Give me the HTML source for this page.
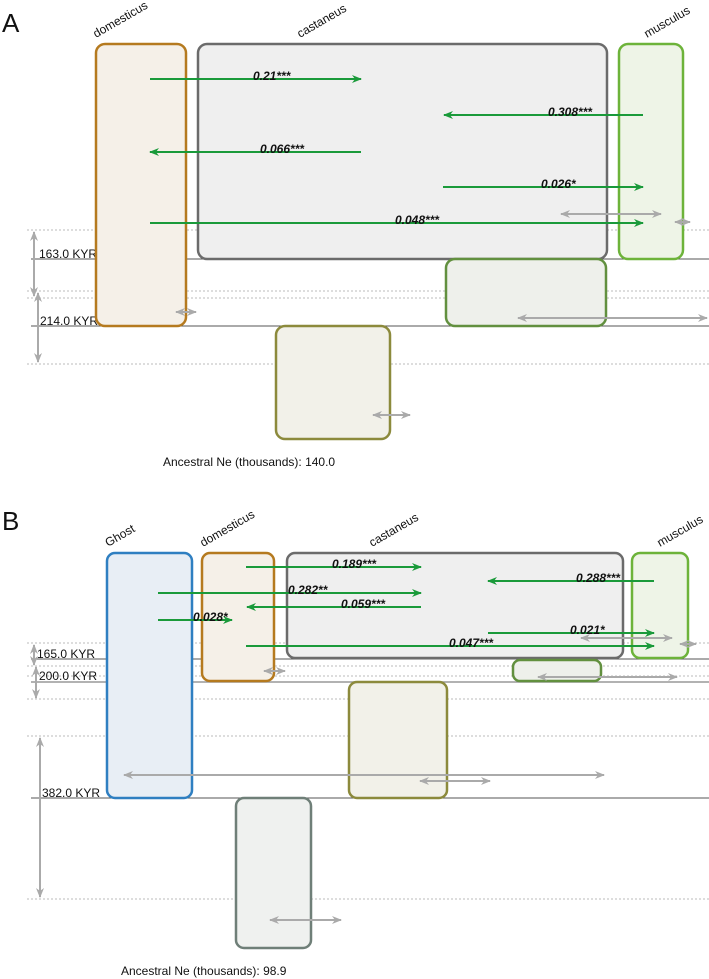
<!DOCTYPE html>
<html><head><meta charset="utf-8"><style>
html,body{margin:0;padding:0;background:#fff;}
svg{display:block;font-family:"Liberation Sans",sans-serif;}
.g{stroke:#1a9a3a;stroke-width:2;fill:none;}
.gr{stroke:#aaa;stroke-width:2;fill:none;}
.sl{stroke:#555;stroke-width:1;}
.sl2{stroke:#999;stroke-width:1.5;}
.dl{stroke:#bbb;stroke-width:1;stroke-dasharray:2,2;}
.lab{font-size:12px;font-style:italic;font-weight:bold;fill:#111;}
.sp{font-size:12px;fill:#111;}
</style></head><body>
<svg width="709" height="979" viewBox="0 0 709 979" xmlns="http://www.w3.org/2000/svg">
<defs>
<marker id="ga" markerWidth="10" markerHeight="8" refX="9" refY="4" orient="auto" markerUnits="userSpaceOnUse"><path d="M0,0 L10,4 L0,8 L3,4 Z" fill="#1a9a3a"/></marker>
<marker id="ya" markerWidth="10" markerHeight="8" refX="9" refY="4" orient="auto-start-reverse" markerUnits="userSpaceOnUse"><path d="M0,0 L10,4 L0,8 L3,4 Z" fill="#aaa"/></marker>
</defs>
<!-- Panel A -->
<text x="2" y="32" font-size="26" fill="#111">A</text>
<text class="sp" transform="translate(96,38) rotate(-30)">domesticus</text>
<text class="sp" transform="translate(300,38) rotate(-30)">castaneus</text>
<text class="sp" transform="translate(647,38) rotate(-30)">musculus</text>
<line class="dl" x1="27" y1="230" x2="709" y2="230"/>
<line class="dl" x1="27" y1="291" x2="709" y2="291"/>
<line class="dl" x1="27" y1="298" x2="709" y2="298"/>
<line class="dl" x1="27" y1="364" x2="709" y2="364"/>
<line class="sl" x1="31" y1="259" x2="709" y2="259"/>
<line class="sl" x1="31" y1="326" x2="709" y2="326"/>
<text class="sp" x="39" y="258" font-style="normal">163.0 KYR</text>
<text class="sp" x="40" y="325">214.0 KYR</text>
<line class="gr" x1="34" y1="232" x2="34" y2="296" marker-start="url(#ya)" marker-end="url(#ya)"/>
<line class="gr" x1="38" y1="293" x2="38" y2="362" marker-start="url(#ya)" marker-end="url(#ya)"/>
<rect x="96" y="44" width="90" height="282" rx="9" fill="#f5f0e8" stroke="#b57a1f" stroke-width="2.5"/>
<rect x="198" y="44" width="409" height="215" rx="9" fill="#efefef" stroke="#6b6b6b" stroke-width="2.5"/>
<rect x="619" y="44" width="64" height="215" rx="9" fill="#eef4e7" stroke="#6db33a" stroke-width="2.5"/>
<rect x="446" y="259" width="160" height="67" rx="9" fill="#eef0eb" stroke="#62903f" stroke-width="2.5"/>
<rect x="276" y="326" width="114" height="113" rx="9" fill="#f2f1e9" stroke="#8c8a3c" stroke-width="2.5"/>
<line class="g" x1="150" y1="79" x2="361" y2="79" marker-end="url(#ga)"/>
<line class="g" x1="643" y1="115" x2="444" y2="115" marker-end="url(#ga)"/>
<line class="g" x1="361" y1="152" x2="150" y2="152" marker-end="url(#ga)"/>
<line class="g" x1="443" y1="187" x2="643" y2="187" marker-end="url(#ga)"/>
<line class="g" x1="150" y1="223" x2="643" y2="223" marker-end="url(#ga)"/>
<text class="lab" x="253" y="80">0.21***</text>
<text class="lab" x="548" y="116">0.308***</text>
<text class="lab" x="260" y="153">0.066***</text>
<text class="lab" x="541" y="188">0.026*</text>
<text class="lab" x="395" y="224">0.048***</text>
<line class="gr" x1="561" y1="214" x2="661" y2="214" marker-start="url(#ya)" marker-end="url(#ya)"/>
<line class="gr" x1="675" y1="222" x2="690" y2="222" marker-start="url(#ya)" marker-end="url(#ya)"/>
<line class="gr" x1="176" y1="312" x2="196" y2="312" marker-start="url(#ya)" marker-end="url(#ya)"/>
<line class="gr" x1="518" y1="318" x2="707" y2="318" marker-start="url(#ya)" marker-end="url(#ya)"/>
<line class="gr" x1="373" y1="415" x2="410" y2="415" marker-start="url(#ya)" marker-end="url(#ya)"/>
<text class="sp" x="163" y="466">Ancestral Ne (thousands): 140.0</text>
<!-- Panel B -->
<text x="2" y="530" font-size="26" fill="#111">B</text>
<text class="sp" transform="translate(108,547) rotate(-30)">Ghost</text>
<text class="sp" transform="translate(203,547) rotate(-30)">domesticus</text>
<text class="sp" transform="translate(372,547) rotate(-30)">castaneus</text>
<text class="sp" transform="translate(660,547) rotate(-30)">musculus</text>
<line class="dl" x1="27" y1="643" x2="709" y2="643"/>
<line class="dl" x1="27" y1="666" x2="709" y2="666"/>
<line class="dl" x1="27" y1="676" x2="709" y2="676"/>
<line class="dl" x1="27" y1="699" x2="709" y2="699"/>
<line class="dl" x1="27" y1="736" x2="709" y2="736"/>
<line class="dl" x1="27" y1="899" x2="709" y2="899"/>
<line class="sl" x1="31" y1="659" x2="709" y2="659"/>
<line class="sl2" x1="31" y1="682" x2="709" y2="682"/>
<line class="sl" x1="31" y1="798" x2="709" y2="798"/>
<text class="sp" x="37" y="658">165.0 KYR</text>
<text class="sp" x="39" y="680">200.0 KYR</text>
<text class="sp" x="42" y="797">382.0 KYR</text>
<line class="gr" x1="34" y1="645" x2="34" y2="665" marker-start="url(#ya)" marker-end="url(#ya)"/>
<line class="gr" x1="36" y1="667" x2="36" y2="698" marker-start="url(#ya)" marker-end="url(#ya)"/>
<line class="gr" x1="40" y1="738" x2="40" y2="897" marker-start="url(#ya)" marker-end="url(#ya)"/>
<rect x="107" y="553" width="85" height="245" rx="8" fill="#e8eef5" stroke="#2f7fc1" stroke-width="2.5"/>
<rect x="202" y="553" width="72" height="128" rx="8" fill="#f5f0e8" stroke="#b57a1f" stroke-width="2.5"/>
<rect x="287" y="553" width="336" height="105" rx="8" fill="#efefef" stroke="#6b6b6b" stroke-width="2.5"/>
<rect x="632" y="553" width="56" height="105" rx="8" fill="#eef4e7" stroke="#6db33a" stroke-width="2.5"/>
<rect x="513" y="660" width="88" height="21" rx="7" fill="#eef0eb" stroke="#62903f" stroke-width="2.5"/>
<rect x="349" y="682" width="98" height="116" rx="8" fill="#f2f1e9" stroke="#8c8a3c" stroke-width="2.5"/>
<rect x="236" y="798" width="75" height="150" rx="8" fill="#eff1ef" stroke="#6f7f78" stroke-width="2.5"/>
<line class="g" x1="246" y1="567" x2="421" y2="567" marker-end="url(#ga)"/>
<line class="g" x1="654" y1="581" x2="488" y2="581" marker-end="url(#ga)"/>
<line class="g" x1="158" y1="593" x2="421" y2="593" marker-end="url(#ga)"/>
<line class="g" x1="421" y1="607" x2="247" y2="607" marker-end="url(#ga)"/>
<line class="g" x1="158" y1="620" x2="232" y2="620" marker-end="url(#ga)"/>
<line class="g" x1="488" y1="633" x2="654" y2="633" marker-end="url(#ga)"/>
<line class="g" x1="246" y1="646" x2="654" y2="646" marker-end="url(#ga)"/>
<text class="lab" x="332" y="568">0.189***</text>
<text class="lab" x="576" y="582">0.288***</text>
<text class="lab" x="288" y="594">0.282**</text>
<text class="lab" x="341" y="608">0.059***</text>
<text class="lab" x="193" y="621">0.028*</text>
<text class="lab" x="570" y="634">0.021*</text>
<text class="lab" x="449" y="647">0.047***</text>
<line class="gr" x1="581" y1="638" x2="672" y2="638" marker-start="url(#ya)" marker-end="url(#ya)"/>
<line class="gr" x1="680" y1="644" x2="696" y2="644" marker-start="url(#ya)" marker-end="url(#ya)"/>
<line class="gr" x1="264" y1="671" x2="285" y2="671" marker-start="url(#ya)" marker-end="url(#ya)"/>
<line class="gr" x1="538" y1="677" x2="677" y2="677" marker-start="url(#ya)" marker-end="url(#ya)"/>
<line class="gr" x1="124" y1="775" x2="604" y2="775" marker-start="url(#ya)" marker-end="url(#ya)"/>
<line class="gr" x1="420" y1="781" x2="490" y2="781" marker-start="url(#ya)" marker-end="url(#ya)"/>
<line class="gr" x1="270" y1="920" x2="341" y2="920" marker-start="url(#ya)" marker-end="url(#ya)"/>
<text class="sp" x="121" y="975">Ancestral Ne (thousands): 98.9</text>
</svg>
</body></html>
